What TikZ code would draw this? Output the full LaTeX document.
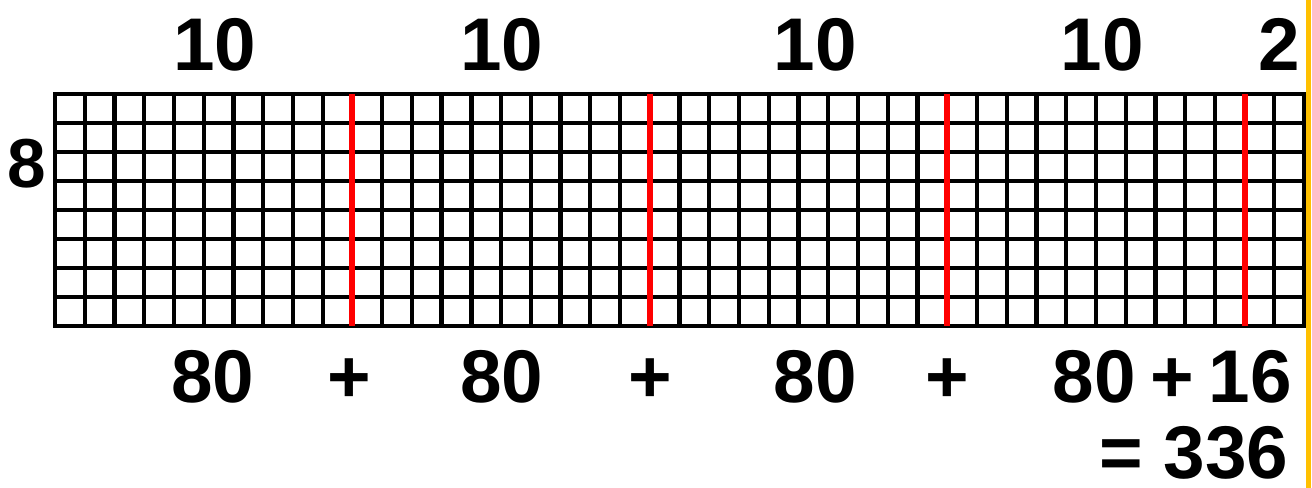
\documentclass[tikz,border=0pt]{standalone}
\usepackage{fontspec}
\setmainfont{Liberation Sans}

\tikzset{every picture/.style={line width=0.75pt}}
\tikzset{
  numlbl/.style={font=\fontsize{56}{58}\selectfont\bfseries, inner sep=0pt, anchor=base},
  gridline/.style={line width=3.2pt},
  tensplit/.style={draw={rgb, 255:red, 255; green, 0; blue, 0}, line width=4.5pt}
}

\begin{document}
\begin{tikzpicture}[x=0.75pt,y=0.75pt,yscale=-1,xscale=1]
\useasboundingbox (0,0) rectangle (1312,488);

%Grid: columns
\foreach \i in {1,...,41} \draw [gridline] (55+\i*29.74,94) -- (55+\i*29.74,326) ;
%Grid: rows
\foreach \j in {1,...,7} \draw [gridline] (55,94+\j*29) -- (1304,94+\j*29) ;
%Shape: Rectangle [grid border]
\draw [line width=3.5pt] (55,94) rectangle (1304,326) ;
%Straight Lines [groups of ten]
\foreach \i in {10,20,30,40} \draw [tensplit] (55+\i*29.74,94) -- (55+\i*29.74,326) ;
%Straight Lines [right edge]
\draw [draw={rgb, 255:red, 255; green, 192; blue, 0}, line width=3.75pt] (1308.5,0) -- (1308.5,488) ;

% Text Node
\node [numlbl] (tenA) at (215,71) {10};
% Text Node
\node [numlbl] (tenB) at (502,71) {10};
% Text Node
\node [numlbl] (tenC) at (815,71) {10};
% Text Node
\node [numlbl] (tenD) at (1102,71) {10};
% Text Node
\node [numlbl] (two) at (1279,71) {2};
% Text Node
\node [numlbl, font=\fontsize{52}{54}\selectfont\bfseries] (eight) at (27,188) {8};
% Text Node
\node [numlbl] (prodA) at (213,402) {80};
% Text Node
\node [numlbl] (plusA) at (349,402) {+};
% Text Node
\node [numlbl] (prodB) at (502,402) {80};
% Text Node
\node [numlbl] (plusB) at (650,402) {+};
% Text Node
\node [numlbl] (prodC) at (815,402) {80};
% Text Node
\node [numlbl] (plusC) at (947,402) {+};
% Text Node
\node [numlbl] (prodD) at (1094,402) {80};
% Text Node
\node [numlbl] (plusD) at (1172,402) {+};
% Text Node
\node [numlbl] (sixteen) at (1250,402) {16};
% Text Node
\node [numlbl] (total) at (1194,478) {= 336};

\end{tikzpicture}
\end{document}
